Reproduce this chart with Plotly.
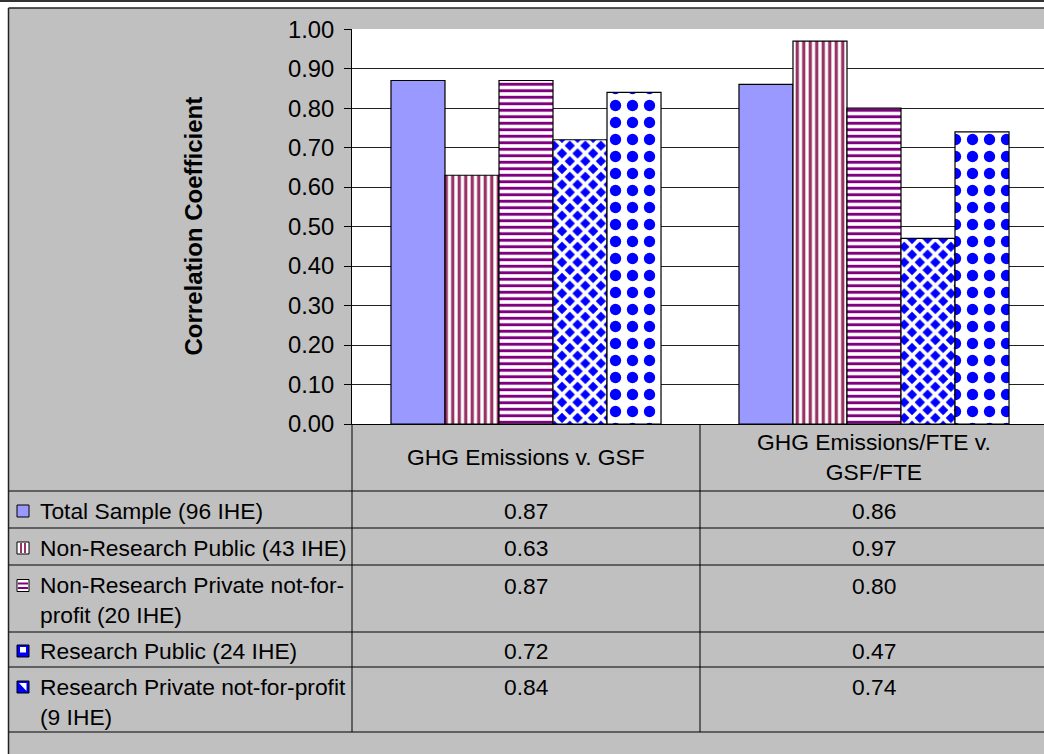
import plotly.graph_objects as go

# ---------------- data ----------------
categories = ["GHG Emissions v. GSF", "GHG Emissions/FTE v. GSF/FTE"]
category_labels = ["GHG Emissions v. GSF", "GHG Emissions/FTE v.<br>GSF/FTE"]

series_names = [
    "Total Sample (96 IHE)",
    "Non-Research Public (43 IHE)",
    "Non-Research Private not-for-profit (20 IHE)",
    "Research Public (24 IHE)",
    "Research Private not-for-profit (9 IHE)",
]
series_table_labels = [
    "Total Sample (96 IHE)",
    "Non-Research Public (43 IHE)",
    "Non-Research Private not-for-<br>profit (20 IHE)",
    "Research Public (24 IHE)",
    "Research Private not-for-profit<br>(9 IHE)",
]

total_sample = [0.87, 0.86]
nonresearch_public = [0.63, 0.97]
nonresearch_private = [0.87, 0.80]
research_public = [0.72, 0.47]
research_private = [0.84, 0.74]

y_tick_values = [0.0, 0.1, 0.2, 0.3, 0.4, 0.5, 0.6, 0.7, 0.8, 0.9, 1.0]
y_tick_labels = ["0.00", "0.10", "0.20", "0.30", "0.40", "0.50",
                 "0.60", "0.70", "0.80", "0.90", "1.00"]
y_title = "Correlation Coefficient"

series_values = [total_sample, nonresearch_public, nonresearch_private,
                 research_public, research_private]

# ---------------- geometry helpers (pixel -> paper) ----------------
W, H = 1044, 754
L, R, T, B = 352, 0, 29, 330
PW = W - L - R
PH = H - T - B


def PX(px):
    return (px - L) / PW


def PY(py):
    return (H - B - py) / PH


FONT = "Liberation Sans, Arial, sans-serif"
FS = 22.8

styles = [
    dict(color="#9999FF"),
    dict(color="white", pattern=dict(shape="|", fgcolor="#993366", bgcolor="white",
                                     size=6.5, solidity=0.5, fillmode="replace")),
    dict(color="white", pattern=dict(shape="-", fgcolor="#800080", bgcolor="white",
                                     size=6.5, solidity=0.45, fillmode="replace")),
    dict(color="#0000FF", pattern=dict(shape="x", fgcolor="white", bgcolor="#0000FF",
                                       size=11, solidity=0.55, fillmode="replace")),
    dict(color="white", pattern=dict(shape=".", fgcolor="#0000FF", bgcolor="white",
                                     size=17, solidity=0.35, fillmode="replace")),
]

fig = go.Figure()
for name, vals, st in zip(series_names, series_values, styles):
    marker = dict(line=dict(color="black", width=1.2))
    marker.update(st)
    fig.add_trace(go.Bar(x=categories, y=vals, name=name, marker=marker,
                         hoverinfo="x+y+name"))

fig.update_layout(
    width=W, height=H,
    margin=dict(l=L, r=R, t=T, b=B, pad=0),
    paper_bgcolor="#C0C0C0",
    plot_bgcolor="white",
    barmode="group",
    bargap=0.224,
    bargroupgap=0,
    showlegend=False,
    font=dict(family=FONT, size=FS, color="black"),
)

fig.update_xaxes(
    type="category",
    range=[-0.5, -0.5 + PW / 348.0],
    showticklabels=False,
    ticks="",
    showgrid=False,
    showline=True, linecolor="black", linewidth=1,
    zeroline=False,
    fixedrange=True,
)
fig.update_yaxes(
    range=[0, 1.0005],
    tickvals=y_tick_values,
    ticktext=y_tick_labels,
    ticks="outside", ticklen=7, tickcolor="black", tickwidth=1,
    ticklabelstandoff=5,
    tickfont=dict(family=FONT, size=23.8, color="black"),
    showline=True, linecolor="black", linewidth=1,
    showgrid=True, gridcolor="#222222", gridwidth=1,
    zeroline=False,
    fixedrange=True,
)

shapes = []
# white surround above / left of the chart area
shapes.append(dict(type="rect", xref="paper", yref="paper",
                   x0=PX(0), x1=PX(W), y0=PY(0), y1=PY(8),
                   fillcolor="white", line=dict(width=0), layer="above"))
shapes.append(dict(type="rect", xref="paper", yref="paper",
                   x0=PX(0), x1=PX(8.5), y0=PY(0), y1=PY(H),
                   fillcolor="white", line=dict(width=0), layer="above"))
# top rule
shapes.append(dict(type="line", xref="paper", yref="paper",
                   x0=PX(0), x1=PX(W), y0=PY(1), y1=PY(1),
                   line=dict(color="#333333", width=2)))
# chart-area border (top & left)
shapes.append(dict(type="line", xref="paper", yref="paper",
                   x0=PX(8.5), x1=PX(W), y0=PY(8), y1=PY(8),
                   line=dict(color="#222222", width=1.5)))
shapes.append(dict(type="line", xref="paper", yref="paper",
                   x0=PX(8.5), x1=PX(8.5), y0=PY(8), y1=PY(H),
                   line=dict(color="#222222", width=1.5)))

# data-table grid
row_lines = [491, 528, 565, 632, 667, 732]
for yy in row_lines:
    shapes.append(dict(type="line", xref="paper", yref="paper",
                       x0=PX(9), x1=PX(W), y0=PY(yy), y1=PY(yy),
                       line=dict(color="black", width=1)))
for xx in [352, 700]:
    shapes.append(dict(type="line", xref="paper", yref="paper",
                       x0=PX(xx), x1=PX(xx), y0=PY(424), y1=PY(732),
                       line=dict(color="black", width=1)))

# legend keys in the table
row_first_line = [511, 548, 585.5, 651, 687]
row_centers = [511, 548, 600, 651, 701.5]
kx0, kx1 = 17, 29
for i, cy in enumerate(row_first_line):
    ky0, ky1 = cy - 6, cy + 6
    if i == 0:
        shapes.append(dict(type="rect", xref="paper", yref="paper",
                           x0=PX(kx0), x1=PX(kx1), y0=PY(ky1), y1=PY(ky0),
                           fillcolor="#9999FF", line=dict(color="black", width=1)))
    elif i == 1:
        shapes.append(dict(type="rect", xref="paper", yref="paper",
                           x0=PX(kx0), x1=PX(kx1), y0=PY(ky1), y1=PY(ky0),
                           fillcolor="white", line=dict(color="black", width=1)))
        for sx in [21, 25]:
            shapes.append(dict(type="line", xref="paper", yref="paper",
                               x0=PX(sx), x1=PX(sx), y0=PY(ky1 - 1), y1=PY(ky0 + 1),
                               line=dict(color="#993366", width=2)))
    elif i == 2:
        shapes.append(dict(type="rect", xref="paper", yref="paper",
                           x0=PX(kx0), x1=PX(kx1), y0=PY(ky1), y1=PY(ky0),
                           fillcolor="white", line=dict(color="black", width=1)))
        for sy in [cy - 2, cy + 2.5]:
            shapes.append(dict(type="line", xref="paper", yref="paper",
                               x0=PX(kx0 + 1), x1=PX(kx1 - 1), y0=PY(sy), y1=PY(sy),
                               line=dict(color="#800080", width=2)))
    elif i == 3:
        shapes.append(dict(type="rect", xref="paper", yref="paper",
                           x0=PX(kx0), x1=PX(kx1), y0=PY(ky1), y1=PY(ky0),
                           fillcolor="#0000FF", line=dict(color="black", width=1)))
        shapes.append(dict(type="rect", xref="paper", yref="paper",
                           x0=PX(20), x1=PX(26), y0=PY(cy + 1.5), y1=PY(cy - 4),
                           fillcolor="white", line=dict(width=0)))
    else:
        shapes.append(dict(type="rect", xref="paper", yref="paper",
                           x0=PX(kx0), x1=PX(kx1), y0=PY(ky1), y1=PY(ky0),
                           fillcolor="#0000FF", line=dict(color="black", width=1)))
        path = "M {a} {b} L {c} {b} L {c} {d} Z".format(
            a=PX(19), b=PY(cy - 4), c=PX(26.5), d=PY(cy + 4))
        shapes.append(dict(type="path", xref="paper", yref="paper", path=path,
                           fillcolor="white", line=dict(width=0)))

annotations = []
# y-axis title
annotations.append(dict(text="<b>" + y_title + "</b>", textangle=-90,
                        xref="paper", yref="paper", x=PX(193), y=0.5,
                        xanchor="center", yanchor="middle", showarrow=False,
                        font=dict(family=FONT, size=24, color="black")))
# category header row
for i, lab in enumerate(category_labels):
    annotations.append(dict(text=lab, xref="x", yref="paper", x=i, y=PY(457),
                            xanchor="center", yanchor="middle", showarrow=False,
                            align="center", font=dict(family=FONT, size=FS)))
# series rows
for r, lab in enumerate(series_table_labels):
    annotations.append(dict(text=lab, xref="paper", yref="paper",
                            x=PX(38), y=PY(row_centers[r]),
                            xanchor="left", yanchor="middle", showarrow=False,
                            align="left", font=dict(family=FONT, size=FS)))
    for c in range(len(categories)):
        annotations.append(dict(text="{:.2f}".format(series_values[r][c]),
                                xref="x", yref="paper", x=c,
                                y=PY(row_first_line[r]),
                                xanchor="center", yanchor="middle", showarrow=False,
                                font=dict(family=FONT, size=FS)))

fig.update_layout(shapes=shapes, annotations=annotations)
fig.write_html("out.html")
